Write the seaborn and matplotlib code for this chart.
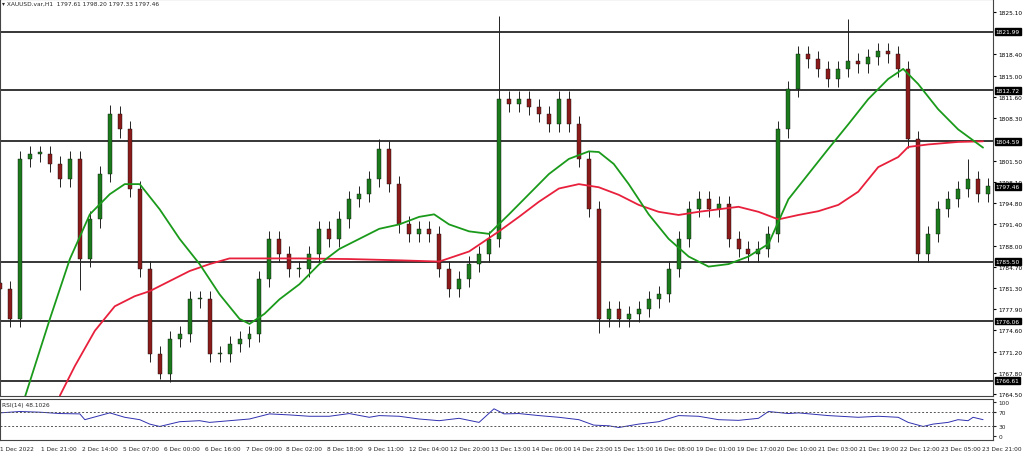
import numpy as np
import pandas as pd
import seaborn as sns
import matplotlib
matplotlib.use("Agg")
import matplotlib.pyplot as plt

sns.set_style("white")
plt.rcParams['font.family'] = ['DejaVu Sans']

# closes of 4-hour-ish candles (index 0..99)
closes = [1781.1, 1776.4, 1801.8, 1802.6, 1802.6, 1801.0, 1798.6, 1801.8, 1785.9, 1792.2,
          1799.4, 1808.9, 1806.5, 1797.0, 1784.3, 1770.8, 1767.6, 1773.2, 1774.0, 1779.5,
          1779.5, 1770.8, 1770.8, 1772.4, 1773.2, 1774.0, 1782.7, 1789.1, 1786.7, 1784.3,
          1784.3, 1786.7, 1790.7, 1789.1, 1792.2, 1795.4, 1796.2, 1798.6, 1803.4, 1797.8,
          1791.4, 1789.9, 1790.7, 1789.9, 1784.3, 1781.1, 1782.7, 1785.1, 1786.7, 1789.1,
          1811.3, 1810.5, 1811.3, 1810.0, 1808.9, 1807.3, 1811.3, 1807.3, 1801.8, 1793.8,
          1776.4, 1778.0, 1776.4, 1777.2, 1778.0, 1779.5, 1780.3, 1784.3, 1789.1, 1793.8,
          1795.4, 1793.8, 1794.6, 1789.1, 1787.5, 1786.7, 1787.5, 1789.9, 1806.5, 1812.9,
          1818.4, 1817.6, 1816.1, 1814.5, 1816.1, 1817.3, 1816.8, 1818.0, 1818.9, 1818.4,
          1816.1, 1804.9, 1786.7, 1789.9, 1793.8, 1795.4, 1797.0, 1798.6, 1796.2, 1797.5]
spike_highs = {11: 1810.3, 38: 1805.0, 50: 1824.5, 85: 1824.0, 97: 1801.8}
spike_lows = {8: 1781.0, 16: 1766.8, 60: 1774.2, 92: 1785.5}

ma_green_x = [2.5, 5, 7, 9, 11, 12.5, 14, 16, 18, 20, 22, 24, 25, 26.5, 28, 30, 32, 34, 36, 38, 40,
              42, 43.5, 45, 47, 49, 51, 53, 55, 57, 59, 60, 61.5, 63, 65, 67, 69, 71, 73, 75, 77,
              79, 81, 83, 85, 87, 89, 90.5, 92, 94, 96, 98.5]
ma_green = [1764.0, 1776.4, 1785.9, 1793.0, 1796.2, 1797.8, 1797.8, 1793.8, 1789.1, 1785.1,
            1780.3, 1776.4, 1775.6, 1777.2, 1779.5, 1781.9, 1785.1, 1787.5, 1789.1, 1790.7,
            1791.4, 1792.6, 1793.0, 1791.4, 1790.3, 1789.9, 1793.0, 1796.2, 1799.4, 1801.8,
            1803.0, 1802.9, 1801.0, 1797.8, 1793.0, 1789.1, 1786.3, 1784.7, 1785.1, 1786.3,
            1788.3, 1795.4, 1799.4, 1803.4, 1807.3, 1811.3, 1814.5, 1816.1, 1813.7, 1809.7,
            1806.5, 1803.6]
ma_red_x = [6, 7.5, 9.5, 11.5, 13.5, 15, 17, 19, 21, 23, 24.5, 30, 35, 40, 44, 47, 50, 52, 54,
            56, 58, 60, 62, 64, 66, 68, 70, 72, 74, 76, 78, 80, 82, 84, 86, 88, 90, 91, 93, 96, 98.5]
ma_red = [1764.2, 1768.9, 1774.5, 1778.4, 1780.0, 1780.8, 1782.4, 1784.0, 1785.1, 1786.0,
          1786.0, 1786.0, 1785.9, 1785.7, 1785.5, 1787.1, 1790.3, 1792.6, 1795.0, 1797.1,
          1797.8, 1797.3, 1796.1, 1794.5, 1793.4, 1792.9, 1793.4, 1793.8, 1794.2, 1793.4,
          1792.2, 1792.9, 1793.5, 1794.5, 1796.6, 1800.5, 1802.1, 1803.7, 1804.1, 1804.5, 1804.6]

rsi_x = [0, 2, 4, 6, 8, 8.5, 10, 11, 12.5, 14, 15, 16, 17, 18, 20, 21, 23, 25, 27, 29, 31, 33,
         35, 37, 38, 40, 42, 44, 46, 48, 49.5, 50.5, 52, 54, 56, 58, 59.5, 61, 62, 64, 66, 68,
         70, 72, 74, 76, 77, 79, 80, 83, 86, 88, 90, 91, 92.5, 93.5, 95, 96, 97, 97.5, 98.5]
rsi = [68, 72, 70, 66, 65, 48, 60, 68, 55, 48, 35, 28, 35, 42, 45, 40, 45, 50, 65, 62, 58, 58,
       66, 55, 60, 58, 50, 45, 52, 40, 80, 65, 66, 60, 55, 48, 32, 30, 25, 35, 42, 60, 58, 48,
       46, 52, 72, 66, 68, 60, 55, 58, 55, 40, 28, 35, 40, 48, 45, 55, 48]

levels = [1821.99, 1812.72, 1804.59, 1785.50, 1776.06, 1766.61]
last_price = 1797.46
price_ticks = [1825.10, 1818.40, 1815.00, 1811.60, 1808.30, 1801.50, 1798.10, 1794.80,
               1791.40, 1788.00, 1784.70, 1781.30, 1777.90, 1774.60, 1771.20, 1767.80, 1764.50]
date_labels = ["1 Dec 2022", "1 Dec 21:00", "2 Dec 14:00", "5 Dec 07:00", "6 Dec 00:00",
               "6 Dec 16:00", "7 Dec 09:00", "8 Dec 02:00", "8 Dec 18:00", "9 Dec 11:00",
               "12 Dec 04:00", "12 Dec 20:00", "13 Dec 13:00", "14 Dec 06:00", "14 Dec 23:00",
               "15 Dec 15:00", "16 Dec 08:00", "19 Dec 01:00", "19 Dec 17:00", "20 Dec 10:00",
               "21 Dec 03:00", "21 Dec 19:00", "22 Dec 12:00", "23 Dec 05:00", "23 Dec 21:00"]

FS = 4.2
fig = plt.figure(figsize=(10.24, 4.52), dpi=100)
ax = fig.add_axes([0.0, 55/452, 993/1024, 397/452])
axr = fig.add_axes([0.0, 11/452, 993/1024, 41/452])

n = len(closes)
opens = [closes[0] + 1.0] + closes[:-1]
for i in range(n):
    o, c = opens[i], closes[i]
    hi = spike_highs.get(i, max(o, c) + 1.3)
    lo = spike_lows.get(i, min(o, c) - 1.3)
    ax.vlines(i, lo, hi, color="#222222", lw=0.7, zorder=2)
    col = "#1b7a1b" if c >= o else "#8b1a1a"
    ax.bar(i, max(abs(c - o), 0.25), bottom=min(o, c), width=0.4, color=col,
           edgecolor="#111111", linewidth=0.3, zorder=3)

sns.lineplot(x=ma_red_x, y=ma_red, ax=ax, color="#e8203c", lw=1.3, zorder=4)
sns.lineplot(x=ma_green_x, y=ma_green, ax=ax, color="#1a9a1a", lw=1.3, zorder=4)

for lv in levels:
    ax.axhline(lv, color="black", lw=1.1, zorder=1)
ax.set_xlim(0, 99.5)
ax.set_ylim(1764.15, 1827.2)
ax.set_xticks([])
ax.yaxis.tick_right()
ax.set_yticks(price_ticks)
ax.set_yticklabels([f"{t:.2f}" for t in price_ticks], fontsize=FS)
ax.tick_params(axis="y", length=2.5, pad=1.5, colors="black")
for lv in levels + [last_price]:
    ax.annotate(f"{lv:.2f}", xy=(1.0, lv), xycoords=("axes fraction", "data"),
                xytext=(2, 0), textcoords="offset points", va="center", ha="left",
                fontsize=FS, color="white",
                bbox=dict(boxstyle="square,pad=0.15", fc="black", ec="black"))
ax.text(0.002, 0.995, "▾ XAUUSD.var,H1  1797.61 1798.20 1797.33 1797.46", transform=ax.transAxes,
        fontsize=FS, va="top", ha="left")
for s in ax.spines.values():
    s.set_color("#444444"); s.set_linewidth(0.8)

sns.lineplot(x=rsi_x, y=rsi, ax=axr, color="#3030b0", lw=0.7)
for lv in (70, 30):
    axr.axhline(lv, color="#555555", lw=0.7, ls=(0, (2, 2)))
axr.set_xlim(0, 99.5)
axr.set_ylim(-11.8, 108.8)
axr.yaxis.tick_right()
axr.set_yticks([100, 70, 30, 0])
axr.set_yticklabels(["100", "70", "30", "0"], fontsize=FS)
axr.tick_params(axis="y", length=2.5, pad=1.5)
tick_pos = [4.1 * i for i in range(len(date_labels))]
axr.set_xticks(tick_pos)
axr.set_xticklabels(date_labels, fontsize=FS, ha="left")
axr.tick_params(axis="x", length=3, pad=1)
axr.text(0.002, 0.93, "RSI(14) 48.1026", transform=axr.transAxes, fontsize=FS, va="top")
for s in axr.spines.values():
    s.set_color("#444444"); s.set_linewidth(0.8)

fig.savefig("out.png", dpi=100)
